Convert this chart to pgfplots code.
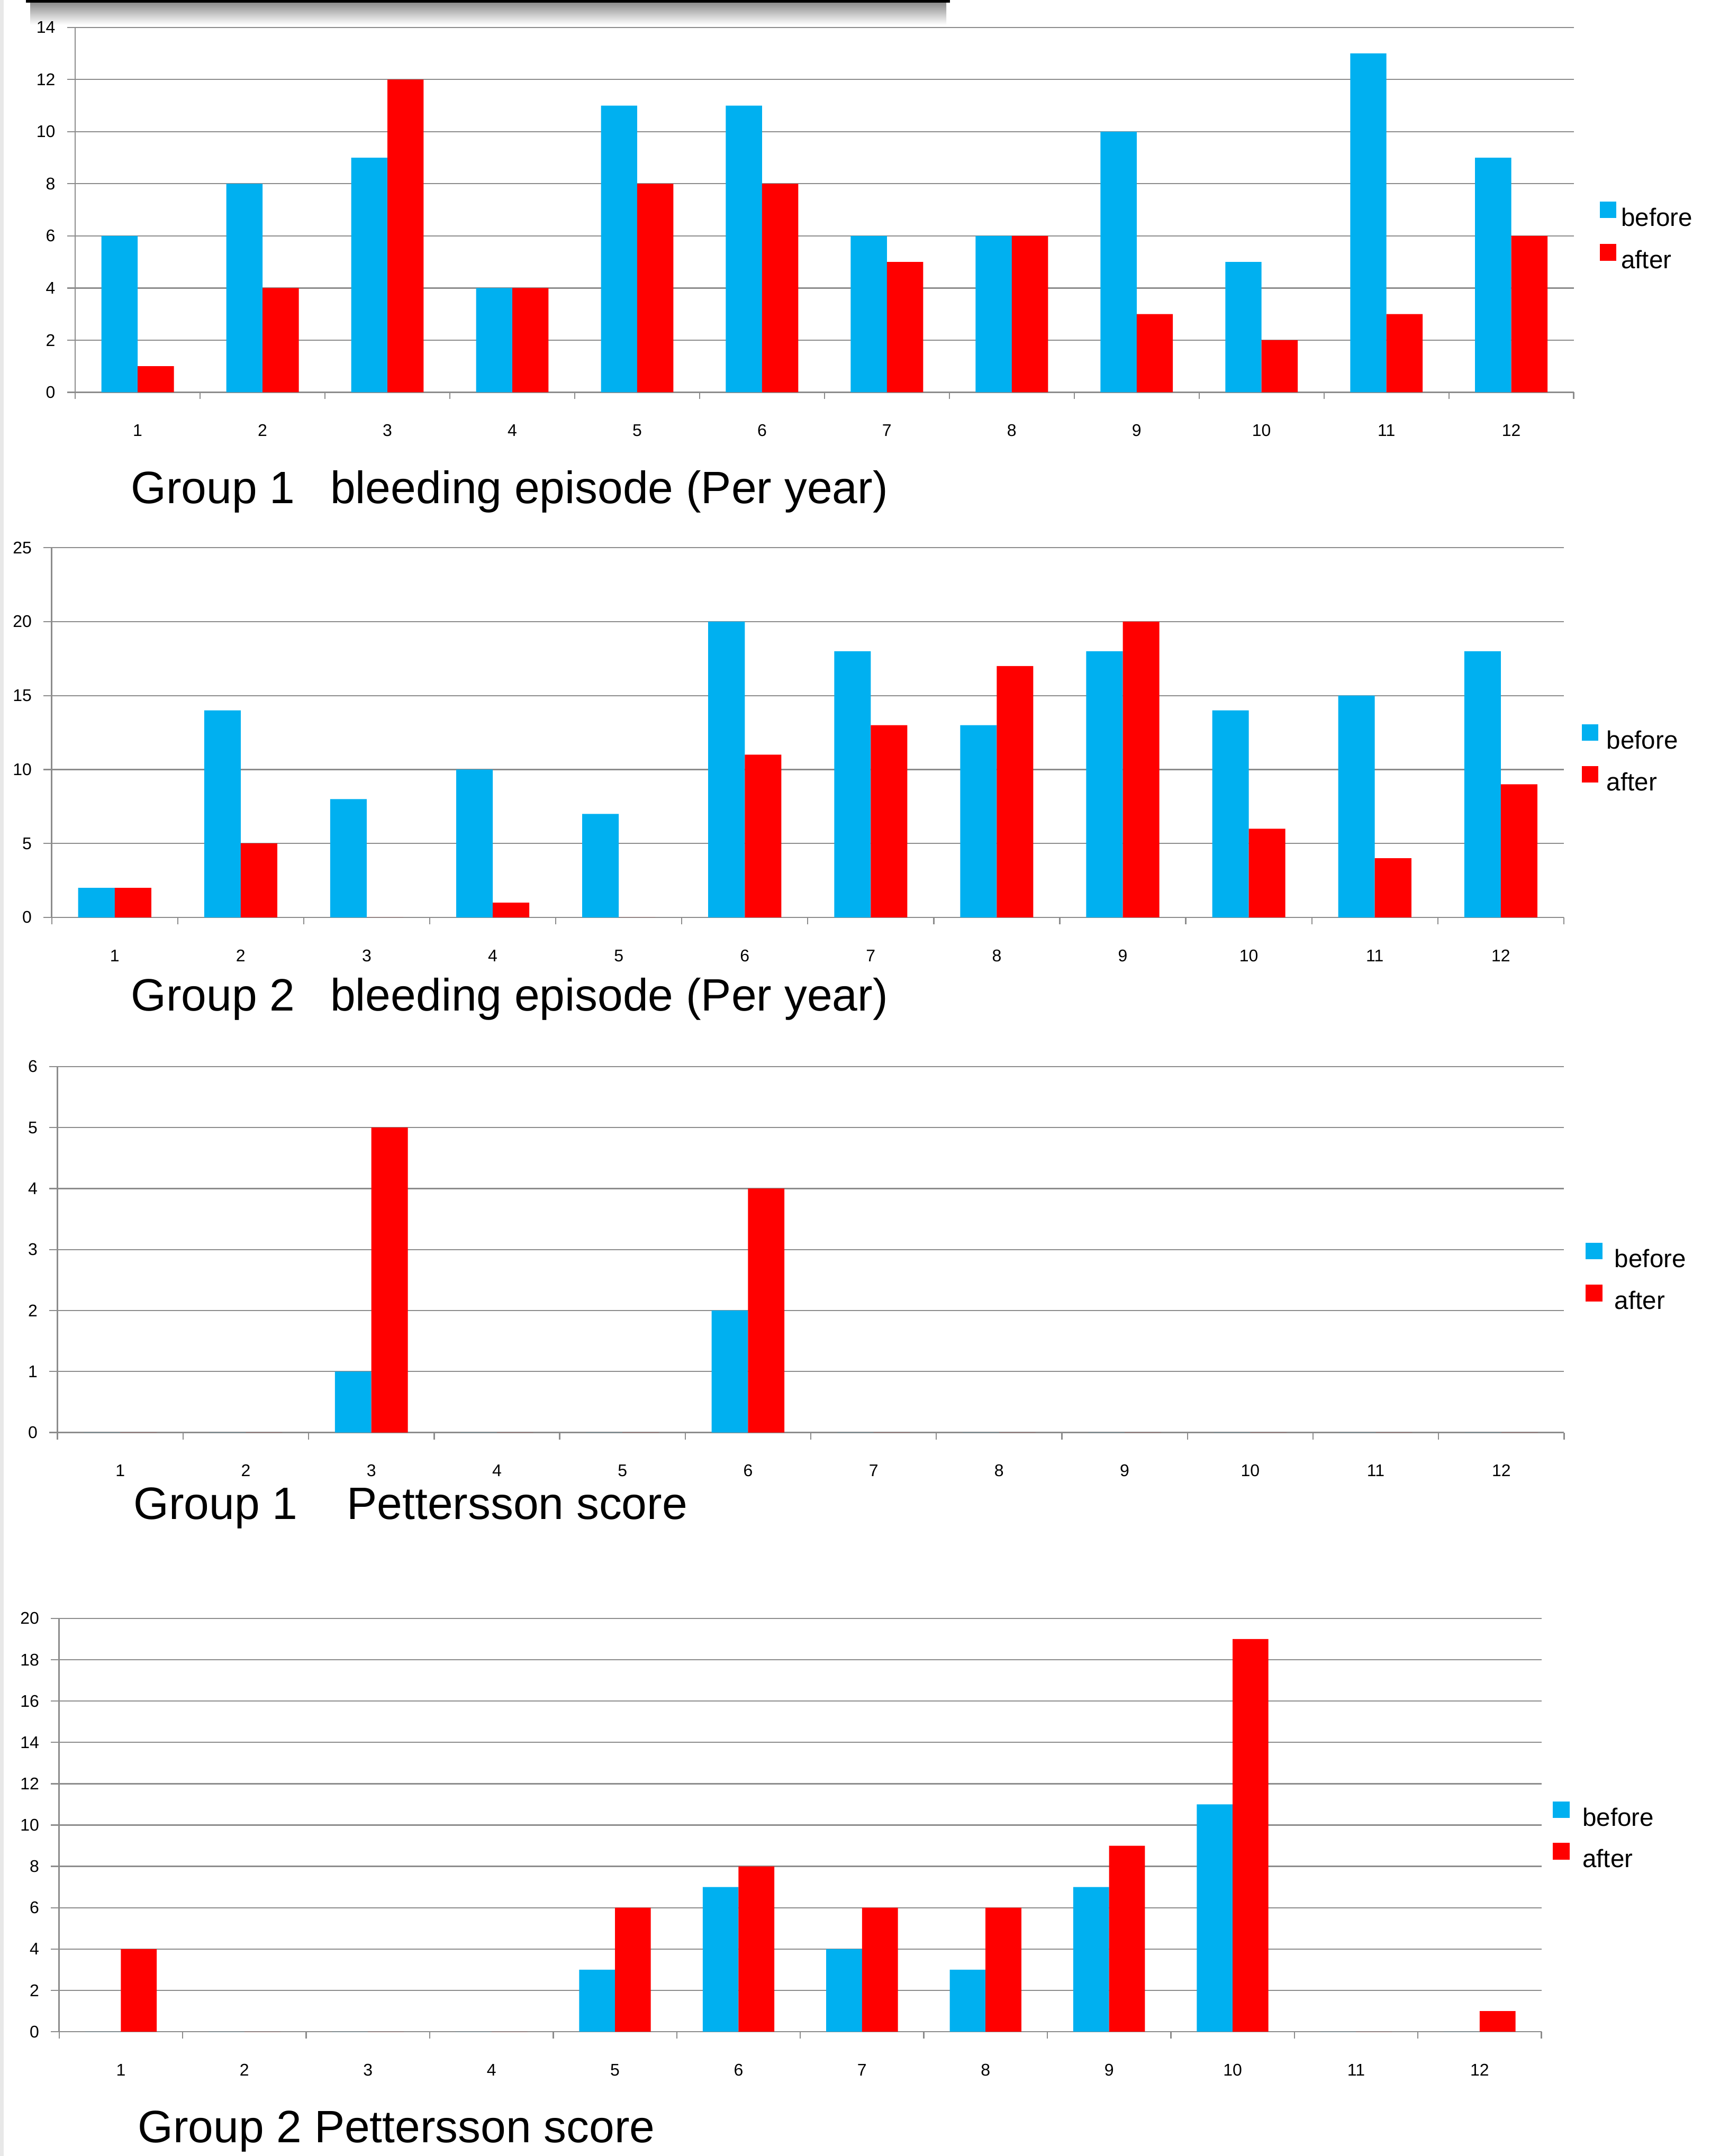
\documentclass[border=0pt]{standalone}
\usepackage{fontspec}
\setmainfont{Liberation Sans}
\usepackage{pgfplots}
\pgfplotsset{compat=1.18}

\definecolor{barblue}{HTML}{00B0F0}
\definecolor{barred}{HTML}{FF0000}
\definecolor{axgray}{HTML}{8C8C8C}

\pgfplotsset{
  excel/.style={
    scale only axis,
    anchor=south west,
    ybar, bar width=0.29,
    xmin=0.5, xmax=12.5, ymin=0,
    xtick={1,...,12},
    minor xtick={0.5,1.5,...,12.5},
    axis x line*=bottom, axis y line*=left,
    axis line style={axgray, line width=1pt},
    ymajorgrids, grid style={axgray, line width=0.9pt},
    tick align=outside,
    major tick length=6pt, minor tick length=5pt,
    major x tick style={draw=none},
    minor x tick style={axgray, line width=0.9pt},
    ytick style={axgray, line width=0.9pt},
    /pgf/number format/assume math mode=true,
    tick label style={font=\fontsize{12.3}{14}\selectfont, text=black},
    xticklabel style={yshift=-14pt},
    yticklabel style={xshift=-5pt},
    legend image code/.code={\fill[##1] (0pt,0pt) rectangle (12pt,12pt);},
    legend cell align=left,
    legend style={draw=none, fill=none, anchor=north west, inner sep=0pt,
      font=\fontsize{18.3}{20}\selectfont, nodes={inner sep=0pt}},
  },
  before/.style={fill=barblue, draw=none, bar shift=-0.145},
  after/.style={fill=barred, draw=none, bar shift=0.145},
}

\newcommand{\titlefont}{\fontsize{33}{36}\selectfont}

\begin{document}
\begin{tikzpicture}
\useasboundingbox (0pt,0pt) rectangle (1244pt,-1568pt);
% page edge and the clipped bar at the top
\fill[black!9] (0pt,0pt) rectangle (2.6pt,-1568pt);
\shade[top color=black!45, bottom color=white] (22pt,-1.9pt) rectangle (688pt,-18pt);
\fill[black] (18.7pt,0pt) rectangle (690.8pt,-1.9pt);

% Group 1 bleeding
\begin{axis}[excel, at={(54.7pt,-285.3pt)}, width=1089.5pt, height=265.4pt,
  ymax=14, ytick={0,2,...,14},
  legend style={at={(axis description cs:1.0172,0.5234)}, row sep=11.6pt, column sep=3.5pt}]
\addplot[before] coordinates {(1,6) (2,8) (3,9) (4,4) (5,11) (6,11) (7,6) (8,6) (9,10) (10,5) (11,13) (12,9)};
\addplot[after] coordinates {(1,1) (2,4) (3,12) (4,4) (5,8) (6,8) (7,5) (8,6) (9,3) (10,2) (11,3) (12,6)};
\legend{before,after}
\end{axis}

% Group 2 bleeding
\begin{axis}[excel, at={(37.6pt,-667.2pt)}, width=1099.4pt, height=268.9pt,
  ymax=25, ytick={0,5,...,25},
  legend style={at={(axis description cs:1.0118,0.5232)}, row sep=11.1pt, column sep=6pt}]
\addplot[before] coordinates {(1,2) (2,14) (3,8) (4,10) (5,7) (6,20) (7,18) (8,13) (9,18) (10,14) (11,15) (12,18)};
\addplot[after] coordinates {(1,2) (2,5) (3,0) (4,1) (5,0) (6,11) (7,13) (8,17) (9,20) (10,6) (11,4) (12,9)};
\legend{before,after}
\end{axis}

% Group 1 Pettersson
\begin{axis}[excel, at={(41.8pt,-1041.8pt)}, width=1095.4pt, height=266.1pt,
  ymax=6, ytick={0,1,...,6},
  legend style={at={(axis description cs:1.0142,0.519)}, row sep=11.1pt, column sep=9pt}]
\addplot[before] coordinates {(1,0) (2,0) (3,1) (4,0) (5,0) (6,2) (7,0) (8,0) (9,0) (10,0) (11,0) (12,0)};
\addplot[after] coordinates {(1,0) (2,0) (3,5) (4,0) (5,0) (6,4) (7,0) (8,0) (9,0) (10,0) (11,0) (12,0)};
\legend{before,after}
\end{axis}

% Group 2 Pettersson
\begin{axis}[excel, at={(43pt,-1477.6pt)}, width=1077.7pt, height=300.6pt,
  ymax=20, ytick={0,2,...,20},
  legend style={at={(axis description cs:1.0076,0.5576)}, row sep=10.8pt, column sep=9.5pt}]
\addplot[before] coordinates {(1,0) (2,0) (3,0) (4,0) (5,3) (6,7) (7,4) (8,3) (9,7) (10,11) (11,0) (12,0)};
\addplot[after] coordinates {(1,4) (2,0) (3,0) (4,0) (5,6) (6,8) (7,6) (8,6) (9,9) (10,19) (11,0) (12,1)};
\legend{before,after}
\end{axis}

% titles
\node[anchor=base west, inner sep=0pt, font=\titlefont] at (95pt,-366pt) {Group 1};
\node[anchor=base west, inner sep=0pt, font=\titlefont] at (240pt,-366pt) {bleeding episode (Per year)};
\node[anchor=base west, inner sep=0pt, font=\titlefont] at (95pt,-735pt) {Group 2};
\node[anchor=base west, inner sep=0pt, font=\titlefont] at (240pt,-735pt) {bleeding episode (Per year)};
\node[anchor=base west, inner sep=0pt, font=\titlefont] at (97pt,-1105pt) {Group 1};
\node[anchor=base west, inner sep=0pt, font=\titlefont] at (252pt,-1105pt) {Pettersson score};
\node[anchor=base west, inner sep=0pt, font=\titlefont] at (100pt,-1558pt) {Group 2 Pettersson score};
\end{tikzpicture}
\end{document}
